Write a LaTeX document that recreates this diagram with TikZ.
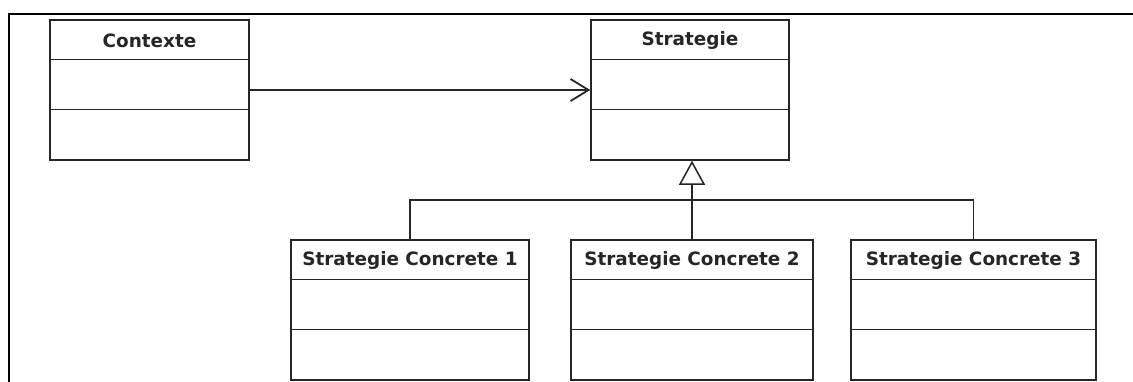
\documentclass[tikz,border=0pt]{standalone}
\usepackage{fontspec}
\setmainfont{DejaVu Sans}
\usetikzlibrary{arrows.meta,calc}

\tikzset{
  classbox/.style={draw=black!85, line width=1.5pt, rectangle, inner sep=0pt, fill=white},
  classtitle/.style={font=\bfseries\fontsize{18.4}{22}\selectfont, text=black!85, inner sep=0pt},
  divider/.style={draw=black!85, line width=1.5pt},
  link/.style={draw=black!85, line width=1.5pt},
  frameline/.style={draw=black, line width=2.2pt},
}

\begin{document}
\begin{tikzpicture}[x=1pt, y=-1pt]
  \useasboundingbox (0,0) rectangle (1133,381);

  % page frame (top and left edges)
  \draw[frameline] (9,390) -- (9,14) -- (1140,14);

  % class boxes: centre, width, height
  \node[classbox, minimum width=199pt, minimum height=140pt] (ctx) at (149.5,90) {};
  \node[classbox, minimum width=198pt, minimum height=140pt] (strat) at (690,90) {};
  \node[classbox, minimum width=238pt, minimum height=140pt] (c1) at (410,310) {};
  \node[classbox, minimum width=242pt, minimum height=140pt] (c2) at (692,310) {};
  \node[classbox, minimum width=245pt, minimum height=140pt] (c3) at (973.5,310) {};

  % compartments and titles
  \foreach \n/\t in {ctx/Contexte, strat/Strategie, c1/Strategie Concrete 1, c2/Strategie Concrete 2, c3/Strategie Concrete 3}{
    \draw[divider] ($(\n.north west)+(0,40)$) -- ($(\n.north east)+(0,40)$);
    \draw[divider] ($(\n.north west)+(0,90)$) -- ($(\n.north east)+(0,90)$);
    \node[classtitle] (\n-title) at ($(\n.north)+(0,21.5)$) {\t};
  }

  % association
  \draw[link, -{Straight Barb[length=18pt, width=22pt, line width=1.8pt]}]
    (ctx.east |- 0,90) -- (strat.west |- 0,90);

  % generalisation
  \coordinate (hub) at (692,200);
  \draw[link] (c1.north) |- (hub) -| (c3.north);
  \draw[link, -{Triangle[open, fill=white, length=24pt, width=26pt, line width=1.5pt]}]
    (c2.north -| hub) -- (strat.south -| hub);
\end{tikzpicture}
\end{document}
